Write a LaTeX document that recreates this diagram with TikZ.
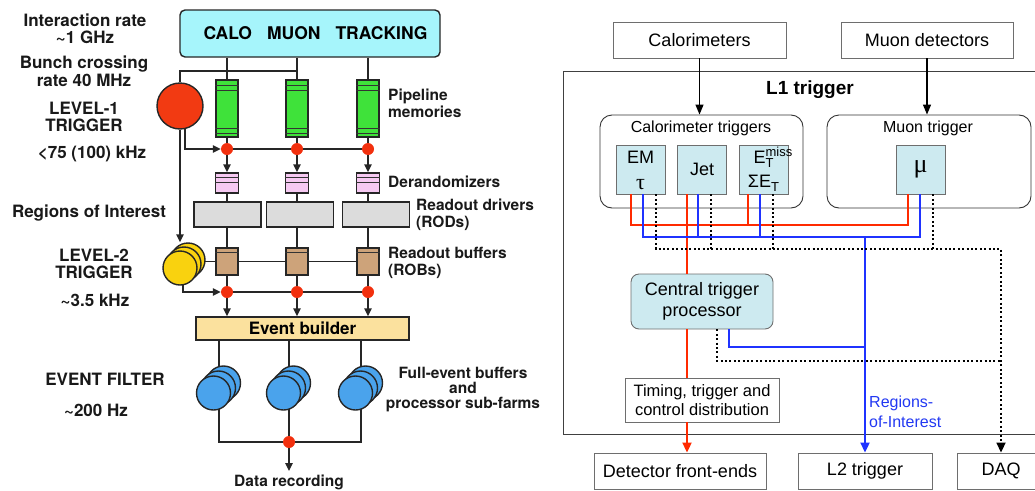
\documentclass[tikz,border=0pt]{standalone}
\usepackage{fontspec}
\setmainfont{TeX Gyre Heros}
\newfontfamily\arialfont{Liberation Sans}
\newfontfamily\greekserif{Liberation Serif}
\usetikzlibrary{arrows.meta,calc,backgrounds}

\definecolor{cyanbox}{HTML}{A6F5FB}
\definecolor{pipegreen}{HTML}{3FE23A}
\definecolor{derandpink}{HTML}{F6C9F2}
\definecolor{rodgrey}{HTML}{DCDCDC}
\definecolor{robtan}{HTML}{CDA37A}
\definecolor{ebyellow}{HTML}{FBE19E}
\definecolor{dotred}{HTML}{F2300E}
\definecolor{l1red}{HTML}{F23A12}
\definecolor{l2yellow}{HTML}{F9D20F}
\definecolor{efblue}{HTML}{4AA3EC}
\definecolor{boxgrey}{HTML}{6E6E6E}
\definecolor{trigblue}{HTML}{CDEAF0}
\definecolor{sigred}{HTML}{FF2A00}
\definecolor{sigblue}{HTML}{1F33FF}
\definecolor{roiblue}{HTML}{2238F2}

\tikzset{
  wire/.style={line width=1.4pt, draw=black!85},
  arr/.style={wire, -{Triangle[length=8pt,width=7.5pt]}},
  lab/.style={font=\bfseries\fontsize{15.5}{17}\selectfont, align=center, inner sep=0pt, text=black!90},
  biglab/.style={lab, font=\bfseries\fontsize{17}{17.5}\selectfont},
  labl/.style={lab, align=left, anchor=west},
  part/.style={draw=black!85, line width=1.4pt, inner sep=0pt},
  pipe/.style={part, fill=pipegreen, minimum width=22pt, minimum height=57pt},
  derand/.style={part, fill=derandpink, minimum width=23pt, minimum height=20pt},
  rod/.style={part, fill=rodgrey, minimum width=67pt, minimum height=25pt},
  rob/.style={part, fill=robtan, minimum width=22pt, minimum height=27pt},
  rdot/.style={circle, fill=dotred, minimum size=12pt, inner sep=0pt},
  ycirc/.style={part, circle, fill=l2yellow, minimum size=34pt},
  bcirc/.style={part, circle, fill=efblue, minimum size=34pt},
  inner line/.style={line width=0.9pt, draw=black!80},
  rtext/.style={font=\arialfont\fontsize{18}{21}\selectfont, align=center, inner sep=0pt},
  gtxt/.style={font=\arialfont\fontsize{16}{19}\selectfont, inner sep=0pt},
  rbox/.style={rtext, draw=boxgrey, line width=0.9pt, fill=white},
  grp/.style={draw=black!80, line width=0.9pt, rounded corners=12pt, inner sep=0pt},
  tbox/.style={rtext, draw=boxgrey, line width=0.9pt, fill=trigblue, minimum width=49pt, minimum height=49pt},
  redw/.style={line width=2pt, draw=sigred},
  bluew/.style={line width=2pt, draw=sigblue},
  dotw/.style={line width=1.8pt, draw=black, dash pattern=on 2pt off 2.4pt},
  rtip/.style={-{Triangle[length=10pt,width=9pt]}},
}

\begin{document}
\begin{tikzpicture}[x=1pt,y=-1pt]
\useasboundingbox (0,0) rectangle (1035,490);

% ---------------- three-level trigger and DAQ chain ----------------
\node[part, fill=cyanbox, rounded corners=5pt, minimum width=260pt, minimum height=47pt,
      font=\bfseries\fontsize{17.5}{20}\selectfont] (top) at (310,33.5)
      {\hspace*{11pt}CALO\hspace{15pt}MUON\hspace{15pt}TRACKING};

\foreach \i/\x/\rx in {1/227/227.5,2/297/300,3/368/376}{
  \node[pipe]   (p\i) at (\x,108.5) {};
  \node[rdot]   (d\i) at (\x,149) {};
  \node[derand] (r\i) at (\x,183) {};
  \node[rod]    (o\i) at (\rx,214.5) {};
  \node[rob]    (b\i) at (\x,261.5) {};
  \node[rdot]   (e\i) at (\x,292) {};
  \draw[inner line] ($(p\i.north west)+(0,6)$) -- ($(p\i.north east)+(0,6)$);
  \draw[inner line] ($(p\i.north west)+(0,11.5)$) -- ($(p\i.north east)+(0,11.5)$);
  \draw[inner line] ($(p\i.south west)+(0,-9)$) -- ($(p\i.south east)+(0,-9)$);
  \draw[inner line] ($(p\i.south west)+(0,-4.5)$) -- ($(p\i.south east)+(0,-4.5)$);
  \draw[inner line] ($(r\i.north west)+(0,5)$) -- ($(r\i.north east)+(0,5)$);
  \draw[inner line] ($(r\i.north west)+(0,10)$) -- ($(r\i.north east)+(0,10)$);
  \draw[inner line] ($(b\i.north west)+(0,5)$) -- ($(b\i.north east)+(0,5)$);
}

\node[part, circle, fill=l1red, minimum size=46pt] (l1) at (180,106) {};
\coordinate (l1in) at (180,71);

\node[ycirc] (y3) at (188,260) {};
\node[ycirc] (y2) at (184,264) {};
\node[ycirc] (y1) at (180,268) {};

\node[part, fill=ebyellow, minimum width=213pt, minimum height=23pt,
      font=\bfseries\fontsize{17}{18}\selectfont] (eb) at (302.5,328.5) {Event builder};

\foreach \i/\x in {1/219,2/289,3/361}{
  \node[bcirc] (fc\i) at ({\x+4.5},383) {};
  \node[bcirc] (fb\i) at ({\x-0.5},388) {};
  \node[bcirc] (fa\i) at ({\x-5.5},393) {};
}
\coordinate (j1) at (219,442);
\coordinate (j2) at (289,442);
\coordinate (j3) at (361,442);
\node[rdot] (jd) at (j2) {};
\coordinate (rec) at (289,471);

\begin{scope}[on background layer]
  \foreach \i in {1,2,3}{
    \draw[wire] (p\i |- top.south) -- (p\i.north);
    \draw[wire] (p\i.south) -- (d\i);
    \draw[arr]  (d\i) -- (r\i.north);
    \draw[wire] (r\i.south) -- (r\i.south |- o\i.north);
    \draw[wire] (r\i.south |- o\i.south) -- (b\i.north);
    \draw[wire] (b\i.south) -- (e\i);
    \draw[arr]  (e\i) -- (e\i |- eb.north);
  }
  \draw[wire] (l1.north) -- (l1in) -- (l1in -| p2.north);
  \draw[arr]  ($(l1.center)+(5,0)$) |- (d1.west);
  \draw[wire] (d1) -- (d3);
  \draw[arr]  (l1.south) -- (l1.south |- y3.north);
  \draw[wire] (y1.center |- b1.center) -- (b3.center);
  \draw[arr]  ($(y1.center)+(3,0)$) |- (e1.west);
  \draw[wire] (e1) -- (e3);
  \draw[wire] (eb.south -| j1) -- (j1) -- (j3) -- (eb.south -| j3);
  \draw[wire] (eb.south -| jd) -- (jd);
\end{scope}
\draw[arr] (jd) -- (rec);

\node[biglab] (t1) at (85,29)  {Interaction rate\\\textasciitilde1 GHz};
\node[biglab] (t2) at (84,71)  {Bunch crossing\\rate 40 MHz};
\node[biglab] (t3) at (84,117) {LEVEL-1\\TRIGGER};
\node[biglab] (t4) at (92,154) {<75 (100) kHz};
\node[biglab] (t5) at (89,213) {Regions of Interest};
\node[biglab] (t6) at (94,264) {LEVEL-2\\TRIGGER};
\node[biglab] (t7) at (95,300) {\textasciitilde3.5 kHz};
\node[biglab] (t8) at (105,379) {EVENT FILTER};
\node[biglab] (t9) at (96,410) {\textasciitilde200 Hz};

\node[labl] (n1) at (388,103.5) {Pipeline\\memories};
\node[labl] (n2) at (388,182) {Derandomizers};
\node[labl] (n3) at (416,215) {Readout drivers\\(RODs)};
\node[labl] (n4) at (388,263) {Readout buffers\\(ROBs)};
\node[lab, font=\bfseries\fontsize{15.5}{15}\selectfont] (n5) at (463,390) {Full-event buffers\\and\\processor sub-farms};
\node[lab] (n6) at (289,482) {Data recording};

% ---------------- L1 trigger overview ----------------
\node[rbox, minimum width=173pt, minimum height=36pt] (cal) at (699.5,40) {Calorimeters};
\node[rbox, minimum width=172pt, minimum height=36pt] (muo) at (927,40) {Muon detectors};
\node[draw=black!75, line width=0.9pt, minimum width=477pt, minimum height=363pt, inner sep=0pt] (l1box) at (801.5,252.5) {};
\node[font=\arialfont\bfseries\fontsize{19}{22}\selectfont, inner sep=0pt] (l1lab) at (810,90) {L1 trigger};

\node[grp, minimum width=203pt, minimum height=93pt] (calt) at (701.5,161.5) {};
\node[gtxt] (caltl) at (701,128) {Calorimeter triggers};
\node[grp, minimum width=204pt, minimum height=93pt] (mut) at (929,161.5) {};
\node[gtxt] (mutl) at (928,128) {Muon trigger};

\node[tbox] (em)  at (640.5,169.5) {};
\node[tbox] (jet) at (702,169.5) {Jet};
\node[tbox] (etm) at (763.5,169.5) {};
\node[tbox, font=\greekserif\fontsize{26}{26}\selectfont] (mu) at (920.5,169.5) {μ};

\node[rtext, anchor=base] (emt) at (640.5,163.5) {EM};
\node[inner sep=0pt, anchor=base, font=\greekserif\fontsize{22}{22}\selectfont] (taut) at (640.5,189) {τ};
\node[rtext, anchor=base] (etmt) at (763.5,163)
  {E\rlap{\raisebox{7pt}{\fontsize{13}{13}\selectfont miss}}\raisebox{-4pt}{\fontsize{13}{13}\selectfont T}};
\node[rtext, anchor=base] (sett) at (763.5,187)
  {ΣE\raisebox{-4pt}{\fontsize{13}{13}\selectfont T}};

\draw[-{Triangle[length=10pt,width=8pt]}, line width=1.2pt] (cal.south) -- (cal.south |- calt.north);
\draw[-{Triangle[length=10pt,width=8pt]}, line width=1.2pt] (muo.south) -- (muo.south |- mut.north);

\node[rtext, draw=boxgrey, line width=0.9pt, fill=trigblue, rounded corners=8pt,
      minimum width=142pt, minimum height=55pt] (ctp) at (702,301.5) {Central trigger\\processor};
\node[rbox, font=\arialfont\fontsize{16.5}{18.5}\selectfont, minimum width=154pt, minimum height=44pt] (ttc) at (702,400)
  {Timing, trigger and\\control distribution};

\node[rbox, minimum width=172pt, minimum height=36pt] (dfe) at (680,471) {Detector front-ends};
\node[rbox, minimum width=134pt, minimum height=36pt] (l2)  at (865,471) {L2 trigger};
\node[rbox, minimum width=88pt,  minimum height=36pt] (daq) at (1001,471) {DAQ};

\node[font=\arialfont\fontsize{16}{20}\selectfont, text=roiblue, align=left, anchor=west, inner sep=0pt] (roi) at (869,412)
  {Regions-\\of-Interest};

% signal taps under each trigger box
\coordinate (emR)  at ([xshift=-9.5pt]em.south);
\coordinate (emB)  at ([xshift=2.5pt]em.south);
\coordinate (emD)  at ([xshift=15.5pt]em.south);
\coordinate (jetR) at ([xshift=-15pt]jet.south);
\coordinate (jetB) at ([xshift=-4pt]jet.south);
\coordinate (jetD) at ([xshift=9pt]jet.south);
\coordinate (etR)  at ([xshift=-15.5pt]etm.south);
\coordinate (etB)  at ([xshift=-3.5pt]etm.south);
\coordinate (etD)  at ([xshift=9.5pt]etm.south);
\coordinate (muR)  at ([xshift=-12.5pt]mu.south);
\coordinate (muB)  at ([xshift=-0.5pt]mu.south);
\coordinate (muD)  at ([xshift=12.5pt]mu.south);
\coordinate (redbus)  at (0,225);
\coordinate (bluebus) at (0,237);
\coordinate (dotbus)  at (0,249);
\coordinate (ctpbus)  at (0,347);
\coordinate (ctpdot)  at (0,361);

% trigger decision path
\draw[redw] (emR) |- (redbus -| muR) -- (muR);
\draw[redw] (etR) -- (etR |- redbus);
\draw[redw] (jetR) -- (jetR |- ctp.north);
\draw[redw] (jetR |- ctp.south) -- (jetR |- ttc.north);
\draw[redw, rtip] (jetR |- ttc.south) -- (jetR |- dfe.north);

% regions of interest
\draw[bluew] (emB) |- (bluebus -| muB) -- (muB);
\draw[bluew] (jetB) -- (jetB |- bluebus);
\draw[bluew] (etB) -- (etB |- bluebus);
\draw[bluew, rtip] (l2.north |- bluebus) -- (l2.north);
\draw[bluew] ([xshift=27pt]ctp.south) |- (ctpbus -| l2.north);

% readout to DAQ
\draw[dotw, rtip] (emD) |- (dotbus -| daq.north) -- (daq.north);
\draw[dotw] (jetD) -- (jetD |- dotbus);
\draw[dotw] (etD) -- (etD |- dotbus);
\draw[dotw] (muD) -- (muD |- dotbus);
\draw[dotw] ([xshift=15pt]ctp.south) |- (ctpdot -| daq.north);
\end{tikzpicture}
\end{document}
